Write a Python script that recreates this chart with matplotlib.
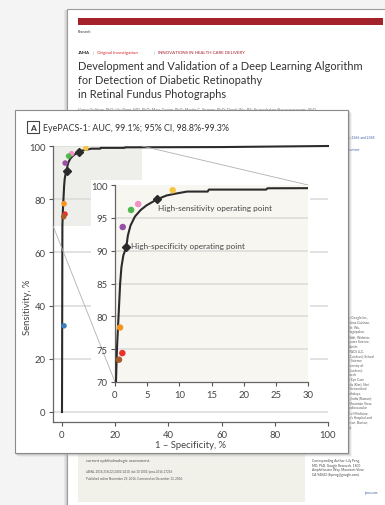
import matplotlib
matplotlib.use('Agg')
import matplotlib.pyplot as plt
from matplotlib.patches import Rectangle
from matplotlib.lines import Line2D

W, H = 385, 506

# ROC curve of the algorithm: 1 - specificity (%) and sensitivity (%)
fpr = [0, 0.05, 0.1, 0.15, 0.3, 0.55, 0.8, 1.0, 1.3, 1.75, 2.0, 2.4, 3.1, 4.0,
       4.9, 6.5, 8.0, 9.5, 11.2, 14.4, 14.6, 23.5, 23.7, 60, 100]
tpr = [0, 20, 45, 70, 75, 80, 85, 87.5, 89.3, 90.5, 92.3, 93.8, 95.2, 96.2,
       96.9, 97.8, 98.4, 98.7, 99.0, 99.0, 99.3, 99.3, 99.5, 99.6, 100]

# operating points
op_names = ['High-specificity operating point', 'High-sensitivity operating point']
op_fpr = [1.75, 6.5]
op_tpr = [90.5, 97.8]

# individual ophthalmologists
oph_fpr = [8.97, 3.6, 2.5, 1.2, 0.78, 1.14, 0.62, 0.75]
oph_tpr = [99.2, 97.1, 96.2, 93.6, 78.3, 74.4, 73.4, 32.4]
oph_col = ['#f6c445', '#f391c4', '#4fb84c', '#9a4fa6', '#f7941e', '#e8322b',
           '#a65c2c', '#3a80c4']

main_xticks = [0, 20, 40, 60, 80, 100]
main_yticks = [0, 20, 40, 60, 80, 100]
zoom_xticks = [0, 5, 10, 15, 20, 25, 30]
zoom_yticks = [70, 75, 80, 85, 90, 95, 100]

panel_title = 'EyePACS-1: AUC, 99.1%; 95% CI, 98.8%-99.3%'

right_col = ['s Google Inc,', 'rbma Gulshan,', 'lle; Wu,', 'ihagopalan,',
             'lbbh, Webster,', 'puter Science,', 'Austin', 'PACS LLC,',
             '(Cuadros); School', 'f Science', 'iversity of', '(Cuadros);',
             'earch', 'f Eye Care', 'dia (Kim); Shri', 'Vitreoretinal',
             'athalaya,', 'j, India (Raman);', 'Mountain View,',
             'ardiovascular', 'l of Medicine,', "n's Hospital and",
             'ston, Boston,', 'e).']
corr = ['Corresponding Author: Lily Peng,', 'MD, PhD, Google Research, 1600',
        'Amphitheatre Way, Mountain View,', 'CA 94043 (lhpeng@google.com).']

NARROW = ['Liberation Sans Narrow', 'Lato', 'DejaVu Sans']
SANS = ['Lato', 'DejaVu Sans']


def fx(x):
    return x / W


def fy(y):
    return 1 - y / H


def frect(x0, y0, x1, y1, **kw):
    r = Rectangle((fx(x0), fy(y1)), (x1 - x0) / W, (y1 - y0) / H,
                  transform=fig.transFigure, **kw)
    fig.add_artist(r)
    return r


def ftext(x, y, s, size, **kw):
    kw.setdefault('va', 'center')
    kw.setdefault('ha', 'left')
    kw.setdefault('family', SANS)
    kw.setdefault('zorder', 0.3)
    fig.text(fx(x), fy(y), s, fontsize=size, **kw)


fig = plt.figure(figsize=(W / 100, H / 100), dpi=100)
fig.patch.set_facecolor('#f4f4f4')

# ---- the journal page behind the figure ----
for i, c in enumerate(['#e6e6e6', '#dadada', '#cfcfcf']):
    frect(64 + i, 11, 67 + i, 520, fc=c, ec='none', zorder=0.05)
frect(67, 10, 400, 520, fc='white', ec='#9c9c9c', lw=0.8, zorder=0.1)
frect(78, 19, 383, 26, fc='#a4232b', ec='none', zorder=0.2)
ftext(78, 32, 'Research', 2.4, color='#333333')
ftext(78, 53, 'JAMA', 3.2, color='#222222', weight='bold')
ftext(93, 53, '|', 3.2, color='#888888')
ftext(97, 53, 'Original Investigation', 3.2, color='#d2232a')
ftext(154, 53, '|', 3.2, color='#888888')
ftext(158, 53, 'INNOVATIONS IN HEALTH CARE DELIVERY', 3.2, color='#a4232b')
for y, s in zip([66, 80, 94], ['Development and Validation of a Deep Learning Algorithm',
                              'for Detection of Diabetic Retinopathy',
                              'in Retinal Fundus Photographs']):
    ftext(78, y, s, 7.9, color='#333333')
ftext(78, 110, 'Varun Gulshan, PhD; Lily Peng, MD, PhD; Marc Coram, PhD; Martin C. Stumpe, PhD; Derek Wu, BS;'
      ' Arunachalam Narayanaswamy, PhD', 2.9, color='#777777')
ftext(349, 138, 's 2366 and 2368', 2.4, color='#3c5fa8')
ftext(349, 150, 'content', 2.4, color='#3c5fa8')
for i, s in enumerate(right_col):
    ftext(349, 318 + i * 4.75, s, 2.3, color='#555555')
for i, s in enumerate(corr):
    ftext(312, 461 + i * 4.6, s, 2.3, color='#444444')
ftext(364, 493, 'jama.com', 2.3, color='#3c5fa8')
frect(78, 380, 305, 503, fc='#f1f0e9', ec='none', zorder=0.2)
ftext(86, 461, 'current ophthalmologic assessment.', 3.0, color='#555555')
ftext(86, 472, 'JAMA. 2016;316(22):2402-2410. doi:10.1001/jama.2016.17216', 2.2, color='#555555')
ftext(86, 478, 'Published online November 29, 2016. Corrected on December 13, 2016.', 2.2,
      color='#555555')

# ---- the figure panel ----
for i, (a, c) in enumerate([(0.35, '#999999'), (0.25, '#aaaaaa'), (0.15, '#bbbbbb')]):
    frect(16 + i, 112 + i, 350 + i, 456 + i, fc=c, ec='none', alpha=a, zorder=0.4)
frect(15, 111, 348, 454, fc='white', ec='#8a8a8a', lw=0.8, zorder=0.5)
frect(27, 122, 39, 134, fc='white', ec='#444444', lw=0.8, zorder=0.6)
ftext(33, 128.5, 'A', 6.0, ha='center', weight='bold', color='#333333',
      family=NARROW, zorder=0.7)
ftext(43, 128.5, panel_title, 6.4, color='#333333', family=NARROW, zorder=0.7)

tick_kw = dict(direction='out', length=3, width=0.8, color='#555555',
               labelsize=6.8, labelcolor='#444444', pad=2.5)

# main axes
ax = fig.add_axes([fx(53), fy(423), (328 - 53) / W, (423 - 147) / H])
ax.set_zorder(1)
ax.patch.set_visible(False)
ax.set_xlim(-3.38, 100)
ax.set_ylim(-3.76, 100)
for s in ['top', 'right']:
    ax.spines[s].set_visible(False)
for s in ['left', 'bottom']:
    ax.spines[s].set_color('#666666')
    ax.spines[s].set_linewidth(0.9)
ax.set_xticks(main_xticks)
ax.set_yticks(main_yticks)
ax.tick_params(**tick_kw)
for lab in ax.get_xticklabels() + ax.get_yticklabels():
    lab.set_family(NARROW)
for y in main_yticks:
    ax.axhline(y, color='#dcdcdc', lw=1.2, zorder=0.5)
ax.add_patch(Rectangle((-3.38, 70), 33.38, 30, fc='#eeeeea', ec='none', zorder=0.4))
ax.plot(fpr, tpr, color='#2b2b2b', lw=1.5, clip_on=False, zorder=3)
ax.plot(op_fpr, op_tpr, 'D', ms=4.2, color='#2b2b2b', zorder=4)
ax.scatter(oph_fpr, oph_tpr, s=16, c=oph_col, edgecolors='none', zorder=5)
ax.set_xlabel('1 \u2013 Specificity, %', fontsize=6.8, color='#444444', family=NARROW,
              labelpad=1)
ax.set_ylabel('Sensitivity, %', fontsize=6.8, color='#444444', family=NARROW)
ax.yaxis.set_label_coords(-0.078, 0.42)

# white backing for the zoomed inset
frect(91, 181, 310, 398, fc='white', ec='none', zorder=2)

# inset axes
axi = fig.add_axes([fx(115), fy(383), (308 - 115) / W, (383 - 186) / H])
axi.set_zorder(3)
axi.set_facecolor('#f7f6f1')
axi.set_xlim(0, 30)
axi.set_ylim(70, 100)
for s in ['top', 'right']:
    axi.spines[s].set_visible(False)
for s in ['left', 'bottom']:
    axi.spines[s].set_color('#666666')
    axi.spines[s].set_linewidth(0.9)
axi.set_xticks(zoom_xticks)
axi.set_yticks(zoom_yticks)
axi.tick_params(**tick_kw)
for lab in axi.get_xticklabels() + axi.get_yticklabels():
    lab.set_family(NARROW)
for y in zoom_yticks[1:-1]:
    axi.axhline(y, color='#dcdcdc', lw=1.2, zorder=0.5)
axi.plot(fpr, tpr, color='#2b2b2b', lw=1.5, zorder=3)
axi.plot(op_fpr, op_tpr, 'D', ms=4.2, color='#2b2b2b', zorder=4)
axi.scatter(oph_fpr, oph_tpr, s=22, c=oph_col, edgecolors='none', zorder=5, clip_on=False)
offsets = [(3.6, 1.4), (0.7, -5.8)]
for name, x, y, off in zip(op_names, op_fpr, op_tpr, offsets):
    axi.annotate(name, (x, y), xytext=off, textcoords='offset points',
                 ha='left', va='center', fontsize=5.9, color='#444444', family=NARROW)

# connector lines from the shaded zoom region to the inset
inv = fig.transFigure.inverted()
for (mx, my), (ix, iy) in [((-3.38, 70), (0, 70)), ((30, 100), (30, 100))]:
    p0 = inv.transform(ax.transData.transform((mx, my)))
    p1 = inv.transform(axi.transData.transform((ix, iy)))
    fig.add_artist(Line2D([p0[0], p1[0]], [p0[1], p1[1]], transform=fig.transFigure,
                          color='#b0b0b0', lw=0.6, zorder=2.5))

fig.savefig('out.png', dpi=100, facecolor=fig.get_facecolor())
